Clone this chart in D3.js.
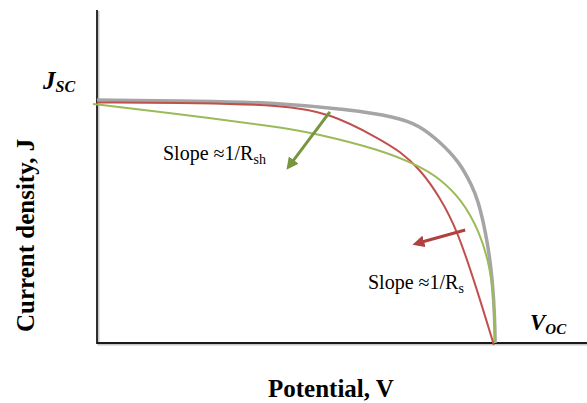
<!DOCTYPE html>
<html>
<head>
<meta charset="utf-8">
<script src="https://cdn.jsdelivr.net/npm/d3@7"></script>
<style>
  html, body { margin: 0; padding: 0; background: #fff; }
  svg { display: block; }
  text { font-family: "Liberation Serif", "Times New Roman", serif; fill: #000; }
</style>
</head>
<body>
<svg id="chart" width="587" height="403"></svg>
<script>
// ---- data (normalised: V / Voc, J / Jsc) ----
const idealCurve = [
  [0, 1.004], [0.259, 1.0], [0.460, 0.992], [0.628, 0.965], [0.751, 0.935],
  [0.809, 0.900], [0.859, 0.835], [0.910, 0.750], [0.942, 0.650], [0.957, 0.591],
  [0.977, 0.455], [0.990, 0.314], [0.997, 0.178], [1.0, 0.05], [1.0, 0]
];
const seriesRCurve = [
  [0, 0.994], [0.259, 0.992], [0.460, 0.983], [0.585, 0.952], [0.711, 0.842],
  [0.761, 0.792], [0.812, 0.718], [0.862, 0.601], [0.905, 0.467], [0.955, 0.219],
  [0.997, -0.008]
];
const shuntRCurve = [
  [-0.010, 0.988], [0.158, 0.955], [0.460, 0.893], [0.543, 0.868], [0.711, 0.800],
  [0.812, 0.730], [0.862, 0.678], [0.915, 0.595], [0.962, 0.458], [0.987, 0.316],
  [0.997, 0.178], [1.0, 0.05], [1.0, 0]
];
const shuntArrow = [[0.585, 0.955], [0.485, 0.736]];
const seriesArrow = [[0.925, 0.467], [0.807, 0.413]];
const xDomain = [0, 1.231];
const yDomain = [0, 1.376];
const xTitle = "Potential, V";
const yTitle = "Current density, J";

// ---- layout ----
const svg = d3.select("#chart");
const x = d3.scaleLinear().domain(xDomain).range([97, 587]);
const y = d3.scaleLinear().domain(yDomain).range([343, 10]);

const defs = svg.append("defs");
function marker(id, color) {
  defs.append("marker")
    .attr("id", id).attr("viewBox", "0 0 10 10")
    .attr("refX", 5).attr("refY", 5)
    .attr("markerWidth", 4).attr("markerHeight", 4)
    .attr("orient", "auto-start-reverse")
    .append("path").attr("d", "M0,0 L10,5 L0,10 Z").attr("fill", color);
}
marker("mGreen", "#77963f");
marker("mRed", "#b0413e");

// axes (shadow + line)
const axisG = svg.append("g");
axisG.append("path")
  .attr("d", `M${x(0)+1.5},${y(yDomain[1])+1} V${y(0)+1.5} H${x(xDomain[1])}`)
  .attr("fill", "none").attr("stroke", "#c8c8c8").attr("stroke-width", 2);
axisG.append("path")
  .attr("d", `M${x(0)},${y(yDomain[1])} V${y(0)} H${x(xDomain[1])}`)
  .attr("fill", "none").attr("stroke", "#1a1a1a").attr("stroke-width", 1.8);

const line = d3.line().x(d => x(d[0])).y(d => y(d[1])).curve(d3.curveBasis);

svg.append("path").datum(idealCurve).attr("d", line)
  .attr("fill", "none").attr("stroke", "#a5a5a5").attr("stroke-width", 3.5);
svg.append("path").datum(seriesRCurve).attr("d", line)
  .attr("fill", "none").attr("stroke", "#c0504d").attr("stroke-width", 2);
svg.append("path").datum(shuntRCurve).attr("d", line)
  .attr("fill", "none").attr("stroke", "#9bbb59").attr("stroke-width", 2);

const straight = d3.line().x(d => x(d[0])).y(d => y(d[1]));
svg.append("path").datum(shuntArrow).attr("d", straight)
  .attr("stroke", "#77963f").attr("stroke-width", 3).attr("marker-end", "url(#mGreen)");
svg.append("path").datum(seriesArrow).attr("d", straight)
  .attr("stroke", "#b0413e").attr("stroke-width", 3).attr("marker-end", "url(#mRed)");

// labels
const jsc = svg.append("text").attr("x", 43).attr("y", 89)
  .style("font-weight", "bold").style("font-style", "italic").style("font-size", "25px");
jsc.append("tspan").text("J");
jsc.append("tspan").attr("dy", 3).style("font-size", "16px").text("SC");

const voc = svg.append("text").attr("x", 530).attr("y", 330)
  .style("font-weight", "bold").style("font-style", "italic").style("font-size", "23px");
voc.append("tspan").text("V");
voc.append("tspan").attr("dy", 4).style("font-size", "15px").text("OC");

const s1 = svg.append("text").attr("x", 163).attr("y", 160).style("font-size", "20px");
s1.append("tspan").text("Slope ≈1/R");
s1.append("tspan").attr("dy", 4).style("font-size", "14px").text("sh");

const s2 = svg.append("text").attr("x", 368).attr("y", 289).style("font-size", "20px");
s2.append("tspan").text("Slope ≈1/R");
s2.append("tspan").attr("dy", 4).style("font-size", "14px").text("s");

svg.append("text").attr("x", 268).attr("y", 397)
  .style("font-weight", "bold").style("font-size", "25px").text(xTitle);

svg.append("text").attr("transform", "translate(34,332) rotate(-90)")
  .style("font-weight", "bold").style("font-size", "25px").text(yTitle);
</script>
</body>
</html>
